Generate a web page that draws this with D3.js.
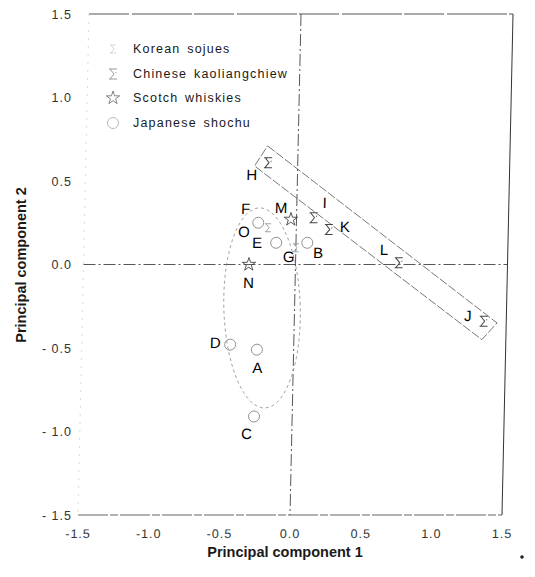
<!DOCTYPE html>
<html>
<head>
<meta charset="utf-8">
<script src="https://d3js.org/d3.v7.min.js"></script>
<style>
	body { margin: 0; background: #fff; }
	text { font-family: "Liberation Sans", Arial, sans-serif; fill: #1a1a1a; }
	.tick text { font-size: 12.5px; letter-spacing: 1px; fill: #333; }
</style>
</head>
<body>
<div id="chart"></div>
<script>
// groups shown in the legend
var categories = ["Korean sojues", "Chinese kaoliangchiew", "Scotch whiskies", "Japanese shochu"];

// samples A..O, their group index and principal component scores
var sampleLabels = ["A", "B", "C", "D", "E", "F", "G", "H", "I", "J", "K", "L", "M", "N", "O"];
var sampleGroup  = [3, 3, 3, 3, 3, 3, 0, 1, 1, 1, 1, 1, 2, 2, 0];
var pc1 = [-0.26, 0.08, -0.27, -0.45, -0.14, -0.27, 0.00, -0.21, 0.12, 1.34, 0.23, 0.73, -0.04, -0.33, -0.20];
var pc2 = [-0.51, 0.13, -0.91, -0.48, 0.13, 0.25, 0.10, 0.61, 0.28, -0.34, 0.21, 0.01, 0.27, 0.00, 0.22];

var xTicks = [-1.5, -1.0, -0.5, 0.0, 0.5, 1.0, 1.5];
var yTicks = [-1.5, -1.0, -0.5, 0.0, 0.5, 1.0, 1.5];
var xTickLabels = ["-1.5", "-1.0", "-0.5", "0.0", "0.5", "1.0", "1.5"];
var yTickLabels = ["- 1.5", "- 1.0", "- 0.5", "0.0", "0.5", "1.0", "1.5"];

// grouping outlines (in PC units)
var chineseBox = [[-0.216, 0.71], [1.435, -0.35], [1.33, -0.45], [-0.305, 0.59]];
var shochuEllipse = { cx: -0.23, cy: -0.26, rx: 0.27, ry: 0.60, tilt: 0.067 };

// label offsets in px (layout only)
var labelOffset = {
	A: [1, 18], B: [11, 10], C: [-7, 17], D: [-15, -2], E: [-19, 0], F: [-13, -14],
	G: [-7, 9], H: [-16, 12], I: [11, -15], J: [-16, -6], K: [16, -3], L: [-15, -13],
	M: [-10, -12], N: [0, 18], O: [-24, 4]
};

var W = 535, H = 577;
var svg = d3.select("#chart").append("svg")
	.attr("width", W).attr("height", H);

var x = d3.scaleLinear().domain([-1.5, 1.5]).range([78, 502]);
var y = d3.scaleLinear().domain([-1.5, 1.5]).range([515, 14]);

// the scanned figure leans slightly to the right towards the top
var shear = 1.26;
var plot = svg.append("g")
	.attr("transform", "translate(0," + y(-1.5) + ") skewX(" + (-shear) + ") translate(0," + (-y(-1.5)) + ")");

// frame
plot.append("line").attr("x1", x(-1.5)).attr("x2", x(1.5)).attr("y1", y(1.5)).attr("y2", y(1.5))
	.attr("stroke", "#444").attr("stroke-width", 0.9).attr("stroke-dasharray", "40,3,60,2");
plot.append("line").attr("x1", x(1.5)).attr("x2", x(1.5)).attr("y1", y(1.5)).attr("y2", y(-1.5))
	.attr("stroke", "#333").attr("stroke-width", 1);
plot.append("line").attr("x1", x(-1.5)).attr("x2", x(1.5)).attr("y1", y(-1.5)).attr("y2", y(-1.5))
	.attr("stroke", "#555").attr("stroke-width", 0.9).attr("stroke-dasharray", "30,2,8,2");
plot.append("line").attr("x1", x(-1.5)).attr("x2", x(-1.5)).attr("y1", y(1.5)).attr("y2", y(-1.5))
	.attr("stroke", "#ccc").attr("stroke-width", 0.7).attr("stroke-dasharray", "2,6");

// zero lines
plot.append("line").attr("x1", x(-1.5)).attr("x2", x(1.5)).attr("y1", y(0)).attr("y2", y(0))
	.attr("stroke", "#444").attr("stroke-width", 0.9).attr("stroke-dasharray", "12,3,2,3");
plot.append("line").attr("x1", x(0)).attr("x2", x(0)).attr("y1", y(1.5)).attr("y2", y(-1.5))
	.attr("stroke", "#444").attr("stroke-width", 0.9).attr("stroke-dasharray", "12,3,2,3");

// x axis labels
var xAxis = d3.axisBottom(x).tickValues(xTicks).tickSize(0).tickPadding(14)
	.tickFormat(function(d, i) { return xTickLabels[i]; });
plot.append("g").attr("transform", "translate(0," + y(-1.5) + ")").call(xAxis)
	.call(function(g) { g.select(".domain").remove(); });

// chinese group box
plot.append("path")
	.attr("d", d3.line().x(function(d) { return x(d[0]); }).y(function(d) { return y(d[1]); })
		.curve(d3.curveLinearClosed)(chineseBox))
	.attr("fill", "none").attr("stroke", "#555").attr("stroke-width", 0.8)
	.attr("stroke-dasharray", "9,2");

// shochu ellipse
var e = shochuEllipse;
var ellPts = d3.range(0, 361, 4).map(function(a) {
	var t = a * Math.PI / 180;
	var ex = e.rx * Math.cos(t), ey = e.ry * Math.sin(t);
	return [e.cx + ex * Math.cos(e.tilt) - ey * Math.sin(e.tilt),
	        e.cy + ex * Math.sin(e.tilt) + ey * Math.cos(e.tilt)];
});
plot.append("path")
	.attr("d", d3.line().x(function(d) { return x(d[0]); }).y(function(d) { return y(d[1]); })(ellPts))
	.attr("fill", "none").attr("stroke", "#888").attr("stroke-width", 0.8)
	.attr("stroke-dasharray", "3,3");

// symbols
var chinesePath = "M-4,-5H4M-4,5H4M-3,-5L1,0L-3,5M3,-2v1";
var koreanPath = "M-3,-4H3M-3,4H3M-2,-4L1,0L-2,4";
function drawSymbol(sel, g, faint) {
	if (g === 0) {
		sel.append("path").attr("d", koreanPath).attr("fill", "none")
			.attr("stroke", faint ? "#d0d0d0" : "#999").attr("stroke-width", 0.9);
	} else if (g === 1) {
		sel.append("path").attr("d", chinesePath).attr("fill", "none")
			.attr("stroke", faint ? "#999" : "#444").attr("stroke-width", 1);
	} else if (g === 2) {
		sel.append("path").attr("d", d3.symbol().type(d3.symbolStar).size(55)())
			.attr("fill", "none").attr("stroke", faint ? "#777" : "#444").attr("stroke-width", 0.9);
	} else {
		sel.append("circle").attr("r", 5.5).attr("fill", "none")
			.attr("stroke", faint ? "#aaa" : "#777").attr("stroke-width", 0.8);
	}
}

var samples = sampleLabels.map(function(l, i) {
	return { label: l, group: sampleGroup[i], pc1: pc1[i], pc2: pc2[i] };
});

var pts = plot.selectAll("g.pt").data(samples).enter().append("g")
	.attr("class", "pt")
	.attr("transform", function(d) { return "translate(" + x(d.pc1) + "," + y(d.pc2) + ")"; });
pts.each(function(d) { drawSymbol(d3.select(this), d.group, false); });
pts.append("text")
	.attr("x", function(d) { return labelOffset[d.label][0]; })
	.attr("y", function(d) { return labelOffset[d.label][1]; })
	.attr("text-anchor", "middle").attr("dominant-baseline", "central")
	.style("font-size", "15px").style("fill", "#000")
	.text(function(d) { return d.label; });

// y axis labels (not sheared)
var yAxis = d3.axisLeft(y).tickValues(yTicks).tickSize(0).tickPadding(0)
	.tickFormat(function(d, i) { return yTickLabels[i]; });
svg.append("g").attr("transform", "translate(72,0)").call(yAxis)
	.call(function(g) { g.select(".domain").remove(); });

// legend
var legend = svg.append("g").attr("transform", "translate(113,49)");
var rows = legend.selectAll("g").data(categories).enter().append("g")
	.attr("transform", function(d, i) { return "translate(0," + [0, 25, 49, 74][i] + ")"; });
rows.each(function(d, i) { drawSymbol(d3.select(this), i, true); });
rows.append("text").attr("x", 20).attr("dominant-baseline", "central")
	.style("font-size", "12.5px").style("letter-spacing", "1.2px").style("word-spacing", "2px")
	.text(function(d) { return d; });

// axis titles
svg.append("text").attr("x", 285).attr("y", 557).attr("text-anchor", "middle")
	.style("font-size", "14.5px").style("font-weight", "bold")
	.text("Principal component 1");
svg.append("text").attr("transform", "translate(21,265) rotate(-90)")
	.attr("text-anchor", "middle").attr("dominant-baseline", "central")
	.style("font-size", "14.5px").style("font-weight", "bold")
	.text("Principal component 2");

// small mark at lower right corner of the scan
svg.append("circle").attr("cx", 522).attr("cy", 557).attr("r", 1.8).attr("fill", "#222");
</script>
</body>
</html>
